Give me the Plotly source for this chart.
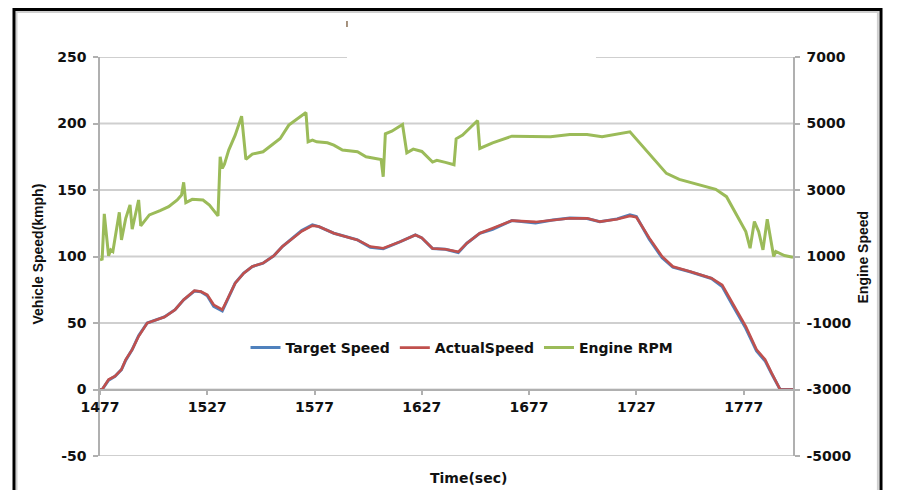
import plotly.graph_objects as go

# Vehicle speed (km/h) sampled over the drive segment
actual_time = [1477, 1478, 1481, 1484, 1487, 1489, 1492, 1495, 1499, 1503, 1507, 1512,
               1516, 1521, 1524, 1527, 1530, 1534, 1537, 1540, 1544, 1548, 1553, 1558,
               1562, 1567, 1571, 1576, 1579, 1586, 1592, 1597, 1603, 1609, 1617, 1624,
               1627, 1632, 1638, 1644, 1648, 1654, 1660, 1669, 1680, 1688, 1696, 1704,
               1710, 1718, 1724, 1727, 1733, 1739, 1744, 1752, 1762, 1767, 1772, 1778,
               1783, 1787, 1790, 1794, 1800]
actual_speed = [0, 0, 7.5, 10, 15, 22.5, 30, 40, 50, 52.5, 54.5, 60,
                67.5, 74.3, 73.7, 71.2, 63.7, 60, 70, 80, 87.5, 92.5, 95, 100.5,
                107.5, 113.7, 119, 123.2, 122.5, 117.5, 115, 112.5, 107.5, 106.2, 111.2, 116.2,
                114, 106, 105.5, 103.5, 110, 117.5, 121.2, 127, 126, 127.5, 128.7, 128.7,
                126.2, 128, 130.5, 129.5, 114, 100, 92.5, 88.7, 83.7, 78.7, 65, 47.5,
                30, 22.5, 12.5, 0, 0]

target_time = actual_time
target_speed = [0, 0, 7, 10, 15, 22, 30, 40.5, 50, 52.5, 54.5, 60,
                67.5, 74, 73.5, 70.5, 62.5, 59, 69.5, 80, 87.5, 92.5, 95, 100.5,
                107.5, 114, 119.5, 123.8, 122.5, 117.5, 115, 112.5, 107, 105.8, 111.2, 116.2,
                114, 106, 105.5, 103, 110, 117.5, 120.5, 127, 125.2, 127.5, 129, 128.5,
                126.2, 128.3, 131.3, 130, 113, 99, 92, 88.5, 83.5, 77.5, 63, 46,
                29, 21.5, 12, 0, 0]

# Engine speed (rpm)
rpm_time = [1477, 1478, 1479, 1481, 1482, 1483, 1486, 1487, 1489, 1491, 1492, 1495,
            1496, 1500, 1505, 1509, 1513, 1515, 1516, 1517, 1520, 1525, 1528, 1532,
            1533, 1534, 1535, 1537, 1540, 1543, 1545, 1548, 1553, 1557, 1561, 1565,
            1573, 1574, 1576, 1578, 1583, 1586, 1590, 1597, 1601, 1608, 1609, 1610,
            1613, 1618, 1620, 1623, 1627, 1632, 1634, 1638, 1642, 1643, 1646, 1653,
            1654, 1660, 1669, 1687, 1696, 1704, 1711, 1724, 1733, 1741, 1747, 1756,
            1764, 1769, 1773, 1778, 1780, 1782, 1784, 1786, 1788, 1791, 1792, 1796, 1800]
engine_rpm = [900, 920, 2280, 1020, 1200, 1150, 2330, 1500, 2150, 2550, 1820, 2700,
              1920, 2250, 2380, 2500, 2700, 2850, 3230, 2620, 2720, 2700, 2550, 2220,
              4000, 3650, 3780, 4200, 4650, 5220, 3920, 4080, 4150, 4350, 4550, 4950,
              5330, 4450, 4500, 4450, 4420, 4350, 4200, 4150, 4000, 3920, 3400, 4690,
              4770, 4970, 4120, 4230, 4160, 3840, 3890, 3830, 3760, 4540, 4650, 5090,
              4250, 4420, 4620, 4600, 4670, 4670, 4600, 4750, 4100, 3500, 3320, 3150,
              3020, 2800, 2350, 1750, 1250, 2050, 1750, 1200, 2120, 1000, 1150, 1030, 980]

x_ticks = [1477, 1527, 1577, 1627, 1677, 1727, 1777]
speed_ticks = [-50, 0, 50, 100, 150, 200, 250]
rpm_ticks = [-5000, -3000, -1000, 1000, 3000, 5000, 7000]

BLUE = "#4F81BD"
RED = "#C0504D"
GREEN = "#9BBB59"
GRID = "#cfcfcf"
AXIS = "#b0b0b0"
INK = "#111111"

bold14 = dict(family="DejaVu Sans", size=14, color=INK, weight="bold")

speed_range = [-50, 250]
rpm_range = [v * 40 - 3000 for v in speed_range]
x_range = [1477, 1800]

fig = go.Figure()
fig.add_trace(go.Scatter(x=target_time, y=target_speed, name="Target Speed",
                         mode="lines", line=dict(color=BLUE, width=3)))
fig.add_trace(go.Scatter(x=actual_time, y=actual_speed, name="ActualSpeed",
                         mode="lines", line=dict(color=RED, width=2.6)))
fig.add_trace(go.Scatter(x=rpm_time, y=engine_rpm, name="Engine RPM", yaxis="y2",
                         mode="lines", line=dict(color=GREEN, width=3)))

# horizontal grid at each speed tick
grid_shapes = [
    dict(type="line", xref="x", yref="y", x0=x_range[0], x1=x_range[1], y0=v, y1=v,
         line=dict(color=GRID, width=2), layer="below")
    for v in speed_ticks
]

fig.update_layout(
    width=914, height=490,
    margin=dict(l=100, r=121, t=57, b=34),
    paper_bgcolor="white", plot_bgcolor="rgba(0,0,0,0)",
    showlegend=True,
    legend=dict(orientation="h", x=0.21, xanchor="left", y=0.2707, yanchor="middle",
                font=bold14, bgcolor="rgba(0,0,0,0)", itemwidth=30,
                tracegroupgap=0),
    xaxis=dict(range=x_range, tickvals=x_ticks, ticktext=[str(v) for v in x_ticks],
               anchor="free", position=(0 - speed_range[0]) / (speed_range[1] - speed_range[0]),
               showgrid=False, zeroline=False,
               showline=True, linecolor=AXIS, linewidth=1.5,
               ticks="outside", ticklen=5, tickcolor=AXIS, tickwidth=1.5,
               tickfont=bold14),
    yaxis=dict(range=speed_range, tickvals=speed_ticks,
               ticktext=[str(v) for v in speed_ticks],
               showgrid=False, zeroline=False, showline=True, linecolor=AXIS, linewidth=1.5,
               ticks="outside", ticklen=5, tickcolor=AXIS, tickwidth=1.5,
               tickfont=bold14, ticklabelstandoff=4),
    yaxis2=dict(range=rpm_range, tickvals=rpm_ticks, ticktext=[str(v) for v in rpm_ticks],
                overlaying="y", side="right",
                anchor="x", showgrid=False, zeroline=False, showline=True,
                linecolor=AXIS, linewidth=1.5, ticks="outside", ticklen=5,
                tickcolor=AXIS, tickwidth=1.5, tickfont=bold14, ticklabelstandoff=4),
    annotations=[
        dict(text="Time(sec)", xref="paper", yref="paper", x=0.5318, y=-0.0551,
             showarrow=False, font=bold14, xanchor="center", yanchor="middle"),
        dict(text="Vehicle Speed(kmph)", xref="paper", yref="paper", x=-0.0895, y=0.5075,
             showarrow=False, textangle=-90, xanchor="center", yanchor="middle",
             font=dict(family="Liberation Sans", size=14, color=INK, weight="bold")),
        dict(text="Engine Speed", xref="paper", yref="paper", x=1.101, y=0.5,
             showarrow=False, textangle=-90, xanchor="center", yanchor="middle",
             font=dict(family="Liberation Sans", size=14, color=INK, weight="bold")),
    ],
    shapes=grid_shapes + [
        # blank title box hiding part of the top grid line
        dict(type="rect", xref="paper", yref="paper", x0=0.3564, x1=0.7157,
             y0=0.985, y1=1.03, fillcolor="white", line=dict(width=0), layer="above"),
        dict(type="line", xref="paper", yref="paper", x0=0.3564, x1=0.3564,
             y0=1.075, y1=1.09, line=dict(color="#6b4a2a", width=1.2)),
        # chart frame
        dict(type="rect", xref="paper", yref="paper", x0=-0.1205, x1=1.1225,
             y0=-0.2, y1=1.113, line=dict(color="#cfcfcf", width=2),
             fillcolor="rgba(0,0,0,0)", layer="above"),
        dict(type="rect", xref="paper", yref="paper", x0=-0.1241, x1=1.1270,
             y0=-0.2, y1=1.119, line=dict(color="#000000", width=3),
             fillcolor="rgba(0,0,0,0)", layer="above"),
    ],
)

fig.write_html("out.html")
